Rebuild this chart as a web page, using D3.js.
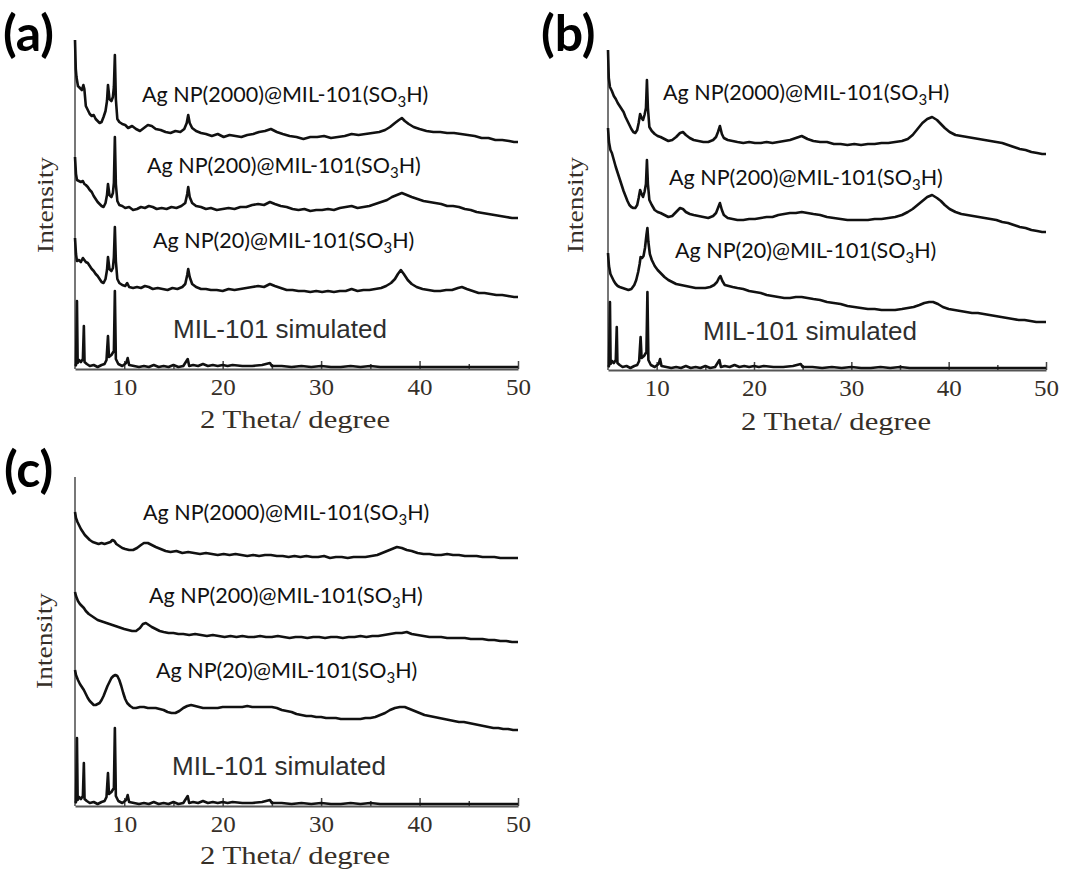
<!DOCTYPE html>
<html><head><meta charset="utf-8">
<script src="https://cdn.jsdelivr.net/npm/d3@7"></script>
<style>
html,body{margin:0;padding:0;background:#fff;}
svg{display:block;}
</style></head>
<body>
<svg id="chart" width="1090" height="873"></svg>
<script>
// ---------- data ----------
const xTicks = [10, 20, 30, 40, 50];
const xMinorTicks = [15, 25, 35, 45];
const panelLetters = ["(a)", "(b)", "(c)"];
const sampleNames = ["Ag NP(2000)@MIL-101(SO", "Ag NP(200)@MIL-101(SO", "Ag NP(20)@MIL-101(SO"];
const simName = "MIL-101 simulated";
const xTitle = "2 Theta/ degree";
const yTitle = "Intensity";

// MIL-101 simulated pattern (2θ, a.u.)
const simulated = [[5.0,3],[5.1,4],[5.2,68],[5.27,6],[5.4,9],[5.6,7],[5.8,10],[5.9,43],[5.97,7],[6.2,5],[6.5,3],[6.9,4],[7.3,2],[7.7,4],[8.0,5],[8.2,9],[8.35,33],[8.45,12],[8.7,14],[8.95,18],[9.05,78],[9.15,10],[9.4,5],[9.8,3],[10.2,6],[10.35,11],[10.5,4],[11,3],[11.5,2],[12,3],[12.5,2],[13,4],[13.5,2],[14,3],[14.5,2],[15,4],[15.5,2],[16,3],[16.45,10],[16.6,3],[17,4],[17.5,3],[18,5],[18.5,3],[19,4],[19.5,3],[20,4],[20.5,3],[21,4],[22,3],[23,3],[24,4],[24.8,6],[25,3],[26,3],[27,2],[28,3],[29,2],[30,3],[31,2],[32,2],[33,3],[34,2],[35,3],[36,2],[37,2],[38,2],[39,2],[40,2],[41,2],[42,2],[43,2],[44,2],[45,2],[46,2],[47,2],[48,2],[49,2],[50,2]];

// panel (a)
const a2000 = [[5.0,329],[5.08,300],[5.15,292],[5.3,283],[5.5,281],[5.7,279],[5.85,284],[5.95,280],[6.1,263],[6.3,259],[6.5,255],[6.7,253],[6.9,254],[7.1,250],[7.3,248],[7.5,246],[7.7,247],[7.9,252],[8.1,258],[8.25,268],[8.35,284],[8.5,270],[8.7,268],[8.85,272],[8.95,282],[9.05,314],[9.15,270],[9.3,250],[9.5,247],[9.8,245],[10.1,244],[10.4,241],[10.8,243],[11.2,240],[11.6,238],[12.0,241],[12.4,244],[12.8,243],[13.2,240],[13.7,239],[14.2,237],[14.7,236],[15.2,238],[15.7,237],[16.1,240],[16.35,246],[16.5,254],[16.65,246],[16.9,241],[17.3,238],[17.8,236],[18.3,235],[18.9,233],[19.5,235],[20.1,232],[20.7,234],[21.3,233],[21.9,232],[22.5,234],[23.1,235],[23.7,237],[24.3,238],[24.9,240],[25.5,237],[26.1,235],[26.8,233],[27.5,232],[28.2,230],[28.9,232],[29.6,232],[30.3,233],[31.0,231],[31.7,232],[32.4,233],[33.1,235],[33.8,234],[34.5,235],[35.2,236],[35.9,237],[36.5,239],[37.0,242],[37.5,246],[37.9,249],[38.2,251],[38.5,248],[38.9,245],[39.4,242],[40.0,240],[40.7,238],[41.4,237],[42.1,237],[42.8,236],[43.5,236],[44.2,235],[44.9,234],[45.6,233],[46.3,231],[47.0,231],[47.7,229],[48.4,229],[49.1,228],[49.6,227],[50.0,227]];
const a200 = [[5.0,212],[5.1,195],[5.2,189],[5.4,188],[5.6,187],[5.8,188],[5.95,185],[6.1,184],[6.3,182],[6.5,179],[6.7,177],[6.9,173],[7.1,170],[7.3,167],[7.5,165],[7.7,163],[7.9,162],[8.1,166],[8.25,174],[8.35,185],[8.5,174],[8.7,172],[8.85,176],[8.95,186],[9.05,232],[9.15,185],[9.3,168],[9.5,164],[9.8,163],[10.1,161],[10.5,162],[10.9,159],[11.3,160],[11.7,162],[12.1,161],[12.5,163],[12.9,162],[13.3,160],[13.8,161],[14.3,160],[14.8,162],[15.3,161],[15.8,163],[16.2,166],[16.4,175],[16.5,182],[16.65,172],[16.9,166],[17.3,163],[17.8,162],[18.3,160],[18.8,161],[19.4,159],[20.0,160],[20.6,161],[21.2,160],[21.8,162],[22.4,162],[23.0,164],[23.6,165],[24.2,164],[24.8,167],[25.3,165],[25.9,163],[26.5,162],[27.1,160],[27.7,159],[28.3,160],[28.9,158],[29.5,159],[30.1,159],[30.7,160],[31.3,159],[31.9,161],[32.5,162],[33.1,163],[33.7,161],[34.3,162],[34.9,163],[35.5,165],[36.1,167],[36.7,169],[37.2,172],[37.7,174],[38.2,176],[38.7,174],[39.2,172],[39.8,170],[40.4,168],[41.0,167],[41.6,166],[42.2,165],[42.8,163],[43.4,163],[44.0,162],[44.6,160],[45.2,159],[45.8,157],[46.4,156],[47.0,155],[47.6,154],[48.2,153],[48.8,152],[49.4,151],[50.0,151]];
const a20 = [[5.0,131],[5.1,115],[5.2,108],[5.4,109],[5.6,107],[5.8,111],[5.95,109],[6.1,107],[6.3,106],[6.5,103],[6.7,100],[6.9,98],[7.1,95],[7.3,93],[7.5,90],[7.7,87],[7.9,86],[8.1,90],[8.25,99],[8.35,112],[8.5,100],[8.7,98],[8.85,101],[8.95,112],[9.05,142],[9.15,108],[9.3,90],[9.5,86],[9.8,84],[10.1,83],[10.3,86],[10.5,82],[10.9,81],[11.3,82],[11.7,81],[12.1,83],[12.5,82],[12.9,80],[13.4,81],[13.9,80],[14.4,79],[14.9,81],[15.4,80],[15.9,82],[16.2,85],[16.4,94],[16.5,100],[16.65,92],[16.9,85],[17.3,82],[17.8,80],[18.3,80],[18.8,79],[19.4,79],[20.0,78],[20.6,80],[21.2,79],[21.8,80],[22.4,81],[23.0,82],[23.6,83],[24.2,82],[24.8,85],[25.3,83],[25.9,81],[26.5,79],[27.1,79],[27.7,78],[28.3,78],[28.9,77],[29.5,78],[30.1,77],[30.7,78],[31.3,77],[31.9,78],[32.5,78],[33.1,80],[33.7,78],[34.3,79],[34.9,79],[35.5,80],[36.1,81],[36.6,83],[37.1,86],[37.5,90],[37.8,95],[38.1,99],[38.4,95],[38.8,89],[39.2,85],[39.7,82],[40.3,80],[40.9,79],[41.5,78],[42.1,78],[42.7,79],[43.3,79],[43.9,81],[44.3,82],[44.8,80],[45.4,78],[46.0,76],[46.6,76],[47.2,75],[47.8,74],[48.4,74],[49.0,73],[49.6,72],[50.0,72]];

// panel (b)
const b2000 = [[5.0,320],[5.08,292],[5.2,283],[5.4,279],[5.6,274],[5.8,271],[6.0,267],[6.2,264],[6.4,261],[6.6,258],[6.8,253],[7.0,249],[7.2,245],[7.4,241],[7.6,238],[7.8,237],[8.0,240],[8.15,247],[8.3,256],[8.45,252],[8.6,250],[8.75,255],[8.9,262],[9.0,290],[9.1,262],[9.25,243],[9.5,239],[9.8,236],[10.1,234],[10.4,233],[10.8,231],[11.2,229],[11.6,230],[12.0,233],[12.4,237],[12.7,238],[13.0,235],[13.4,232],[13.8,230],[14.3,229],[14.8,228],[15.3,228],[15.8,230],[16.1,233],[16.3,238],[16.5,244],[16.7,236],[16.9,232],[17.3,230],[17.8,229],[18.3,228],[18.9,227],[19.5,228],[20.1,227],[20.7,227],[21.3,228],[21.9,227],[22.5,228],[23.1,229],[23.7,230],[24.3,232],[24.9,234],[25.5,231],[26.1,229],[26.8,228],[27.5,228],[28.2,226],[28.9,226],[29.6,225],[30.3,226],[31.0,225],[31.7,226],[32.4,226],[33.1,227],[33.8,227],[34.5,228],[35.2,229],[35.8,231],[36.3,235],[36.8,241],[37.3,247],[37.8,251],[38.3,253],[38.8,250],[39.2,246],[39.6,242],[40.1,238],[40.7,235],[41.3,234],[41.9,233],[42.5,232],[43.1,231],[43.7,230],[44.3,229],[44.9,228],[45.5,227],[46.1,225],[46.7,223],[47.3,221],[47.9,220],[48.5,218],[49.1,217],[49.6,216],[50.0,216]];
const b200 = [[5.0,242],[5.1,228],[5.25,220],[5.4,217],[5.6,210],[5.8,203],[6.0,197],[6.2,191],[6.4,185],[6.6,179],[6.8,174],[7.0,169],[7.2,165],[7.4,163],[7.6,162],[7.8,162],[8.0,165],[8.15,172],[8.3,180],[8.45,176],[8.6,173],[8.75,178],[8.9,186],[9.0,210],[9.1,186],[9.25,170],[9.5,165],[9.8,160],[10.1,158],[10.4,157],[10.8,155],[11.2,153],[11.6,154],[12.0,158],[12.4,162],[12.7,161],[13.0,158],[13.4,156],[13.8,155],[14.3,154],[14.8,153],[15.3,152],[15.8,154],[16.1,157],[16.3,162],[16.5,167],[16.7,160],[16.9,155],[17.3,152],[17.8,151],[18.3,150],[18.9,150],[19.5,151],[20.1,151],[20.7,152],[21.3,153],[21.9,153],[22.5,155],[23.1,156],[23.7,157],[24.3,157],[24.9,158],[25.5,157],[26.1,156],[26.8,155],[27.5,153],[28.2,152],[28.9,151],[29.6,150],[30.3,150],[31.0,150],[31.7,150],[32.4,151],[33.1,151],[33.8,152],[34.5,153],[35.2,155],[35.8,158],[36.3,161],[36.8,165],[37.3,169],[37.8,173],[38.3,175],[38.8,172],[39.2,169],[39.6,165],[40.1,161],[40.7,158],[41.3,156],[41.9,155],[42.5,154],[43.1,153],[43.7,152],[44.3,151],[44.9,150],[45.5,148],[46.1,147],[46.7,145],[47.3,143],[47.9,142],[48.5,140],[49.1,139],[49.6,138],[50.0,138]];
const b20 = [[5.0,117],[5.1,104],[5.25,96],[5.4,93],[5.6,89],[5.8,86],[6.0,84],[6.2,83],[6.5,82],[6.8,81],[7.1,80],[7.4,81],[7.7,85],[7.9,90],[8.1,98],[8.25,106],[8.35,113],[8.5,112],[8.65,114],[8.8,122],[8.95,135],[9.05,142],[9.15,128],[9.3,116],[9.5,110],[9.8,104],[10.1,100],[10.4,97],[10.8,93],[11.2,90],[11.6,88],[12.0,86],[12.5,85],[13.0,84],[13.5,83],[14.0,82],[14.5,82],[15.0,82],[15.5,83],[15.9,85],[16.2,88],[16.4,92],[16.55,94],[16.75,89],[17.0,85],[17.4,84],[17.8,83],[18.3,82],[18.9,81],[19.5,79],[20.1,78],[20.7,77],[21.3,75],[21.9,74],[22.5,73],[23.1,72],[23.7,72],[24.3,73],[24.9,73],[25.5,72],[26.1,71],[26.8,70],[27.5,68],[28.2,67],[28.9,66],[29.6,64],[30.3,63],[31.0,62],[31.7,61],[32.4,61],[33.1,60],[33.8,60],[34.5,60],[35.2,61],[35.8,62],[36.4,63],[37.0,65],[37.5,67],[38.0,68],[38.4,68],[38.9,66],[39.4,63],[40.0,61],[40.6,60],[41.2,59],[41.8,58],[42.4,57],[43.0,57],[43.6,56],[44.2,55],[44.8,54],[45.4,53],[46.0,52],[46.6,51],[47.2,50],[47.8,50],[48.4,49],[49.0,48],[49.6,48],[50.0,48]];

// panel (c)
const c2000 = [[5.0,294],[5.1,288],[5.25,284],[5.4,281],[5.6,277],[5.8,274],[6.0,271],[6.2,269],[6.5,266],[6.8,264],[7.1,263],[7.4,262],[7.7,263],[8.0,262],[8.3,263],[8.6,264],[8.8,266],[9.0,265],[9.2,262],[9.5,260],[9.8,258],[10.1,257],[10.5,256],[10.9,256],[11.3,258],[11.7,261],[12.0,263],[12.4,263],[12.8,261],[13.2,259],[13.7,257],[14.2,255],[14.7,254],[15.3,255],[15.9,253],[16.5,254],[17.1,253],[17.7,252],[18.3,253],[18.9,252],[19.5,251],[20.1,252],[20.7,251],[21.3,252],[21.9,251],[22.5,250],[23.1,251],[23.7,250],[24.3,251],[24.9,251],[25.5,250],[26.1,250],[26.7,249],[27.3,250],[27.9,249],[28.5,250],[29.1,249],[29.7,249],[30.3,250],[30.9,248],[31.5,249],[32.1,249],[32.7,248],[33.3,249],[33.9,249],[34.5,249],[35.1,250],[35.7,251],[36.2,253],[36.7,255],[37.2,257],[37.7,259],[38.2,258],[38.7,256],[39.2,255],[39.8,253],[40.4,252],[41.0,252],[41.6,251],[42.2,251],[42.8,252],[43.4,251],[44.0,251],[44.6,250],[45.2,250],[45.8,250],[46.4,249],[47.0,249],[47.6,249],[48.2,248],[48.8,248],[49.4,248],[50.0,248]];
const c200 = [[5.0,214],[5.1,210],[5.3,205],[5.5,202],[5.7,200],[5.9,198],[6.1,195],[6.4,192],[6.7,190],[7.0,188],[7.3,186],[7.6,185],[7.9,184],[8.2,183],[8.5,182],[8.8,181],[9.1,180],[9.4,179],[9.7,178],[10.0,177],[10.4,176],[10.8,175],[11.2,175],[11.6,178],[11.9,182],[12.2,183],[12.5,181],[12.8,179],[13.2,177],[13.6,175],[14.0,174],[14.5,173],[15.0,173],[15.5,172],[16.0,172],[16.6,171],[17.2,172],[17.8,171],[18.4,170],[19.0,171],[19.6,170],[20.2,169],[20.8,170],[21.4,169],[22.0,170],[22.6,169],[23.2,169],[23.8,170],[24.4,169],[25.0,169],[25.6,170],[26.2,169],[26.8,168],[27.4,169],[28.0,169],[28.6,168],[29.2,169],[29.8,169],[30.4,168],[31.0,169],[31.6,169],[32.2,168],[32.8,169],[33.4,169],[34.0,170],[34.6,169],[35.2,170],[35.8,170],[36.4,171],[37.0,172],[37.6,173],[38.2,173],[38.7,174],[39.2,172],[39.8,171],[40.4,170],[41.0,169],[41.6,169],[42.2,169],[42.8,168],[43.4,168],[44.0,168],[44.6,168],[45.2,167],[45.8,167],[46.4,167],[47.0,166],[47.6,166],[48.2,165],[48.8,165],[49.4,164],[50.0,164]];
const c20 = [[5.0,136],[5.1,131],[5.3,126],[5.5,122],[5.7,119],[5.9,116],[6.1,112],[6.3,108],[6.5,105],[6.7,103],[6.9,101],[7.1,101],[7.3,102],[7.5,103],[7.7,106],[7.9,110],[8.1,115],[8.3,120],[8.5,124],[8.7,128],[8.9,130],[9.1,131],[9.3,130],[9.5,126],[9.7,120],[9.9,113],[10.1,107],[10.3,103],[10.6,100],[10.9,98],[11.2,98],[11.6,99],[12.0,99],[12.4,98],[12.8,98],[13.2,98],[13.6,97],[14.0,96],[14.4,94],[14.8,93],[15.2,93],[15.6,95],[16.0,98],[16.4,100],[16.8,101],[17.2,100],[17.6,99],[18.0,98],[18.5,98],[19.0,98],[19.5,98],[20.0,99],[20.5,99],[21.0,99],[21.5,99],[22.0,99],[22.5,100],[23.0,99],[23.5,99],[24.0,99],[24.5,99],[25.0,99],[25.5,98],[26.0,96],[26.5,95],[27.0,94],[27.5,92],[28.0,91],[28.5,90],[29.0,90],[29.5,89],[30.0,89],[30.5,88],[31.0,88],[31.5,88],[32.0,87],[32.5,87],[33.0,87],[33.5,87],[34.0,87],[34.5,88],[35.0,88],[35.5,89],[36.0,91],[36.5,93],[37.0,96],[37.5,98],[38.0,99],[38.5,99],[39.0,97],[39.5,95],[40.0,93],[40.5,91],[41.0,90],[41.5,89],[42.0,88],[42.5,87],[43.0,86],[43.5,85],[44.0,84],[44.5,84],[45.0,83],[45.5,82],[46.0,81],[46.5,80],[47.0,79],[47.5,78],[48.0,78],[48.5,77],[49.0,77],[49.5,76],[50.0,76]];

// ---------- layout ----------
const panels = [
  {letter: panelLetters[0], letterX: 3, letterY: 51, x0: 75, x1: 518, axisY: 369, top: 40,
   series: [a2000, a200, a20, simulated],
   labels: [[142,102],[147,173],[153,248]], simPos: [173,338], yLab: [45,205], xLab: [295,428]},
  {letter: panelLetters[1], letterX: 541, letterY: 51, x0: 608, x1: 1046, axisY: 370, top: 50,
   series: [b2000, b200, b20, simulated],
   labels: [[663,100],[669,185],[675,258]], simPos: [703,340], yLab: [575,205], xLab: [836,430]},
  {letter: panelLetters[2], letterX: 4, letterY: 487, x0: 75, x1: 518, axisY: 806, top: 477,
   series: [c2000, c200, c20, simulated],
   labels: [[143,520],[149,603],[156,678]], simPos: [172,775], yLab: [44,641], xLab: [295,864]}
];

const svg = d3.select("#chart");
const serifColor = "#362f28";
const serif = "'Liberation Serif','Times New Roman',serif";

panels.forEach(p => {
  const g = svg.append("g");
  const x = d3.scaleLinear().domain([5, 50]).range([p.x0, p.x1]);
  const y = d3.scaleLinear().domain([0, 330]).range([p.axisY, p.axisY - 330]);

  // y axis line (no ticks)
  g.append("line").attr("x1", p.x0).attr("x2", p.x0).attr("y1", p.axisY).attr("y2", p.top)
    .attr("stroke", "#777").attr("stroke-width", 2);

  // x axis via d3 axis, ticks pointing inward (up)
  const xAxis = d3.axisBottom(x).tickValues(xTicks).tickSize(-8).tickSizeOuter(0);
  const ax = g.append("g").attr("transform", `translate(0,${p.axisY})`).call(xAxis);
  ax.select(".domain").attr("stroke", "#555").attr("stroke-width", 2);
  ax.selectAll(".tick line").attr("stroke", "#444").attr("stroke-width", 1.5);
  ax.selectAll(".tick text")
    .attr("font-family", serif)
    .attr("font-size", 24).attr("fill", serifColor).attr("dy", "0.71em")
    .attr("y", 9).attr("textLength", 25).attr("lengthAdjust", "spacingAndGlyphs");
  const minor = d3.axisBottom(x).tickValues(xMinorTicks).tickSize(-5).tickFormat("");
  const mx = g.append("g").attr("transform", `translate(0,${p.axisY})`).call(minor);
  mx.select(".domain").remove();
  mx.selectAll(".tick line").attr("stroke", "#444").attr("stroke-width", 1.5);

  // traces
  const line = d3.line().x(d => x(d[0])).y(d => y(d[1]));
  p.series.forEach(s => {
    g.append("path").datum(s).attr("d", line)
      .attr("fill", "none").attr("stroke", "#111").attr("stroke-width", 2.6)
      .attr("stroke-linejoin", "round");
  });

  // sample labels with subscript
  p.labels.forEach((pos, i) => {
    const t = g.append("text").attr("x", pos[0]).attr("y", pos[1])
      .attr("font-family", "Lato, 'Open Sans', sans-serif").attr("font-size", 21.5).attr("fill", "#111");
    t.append("tspan").text(sampleNames[i]);
    t.append("tspan").text("3").attr("font-size", 15).attr("dy", 5);
    t.append("tspan").text("H)").attr("dy", -5);
  });

  g.append("text").attr("x", p.simPos[0]).attr("y", p.simPos[1])
    .attr("font-family", "'Liberation Sans', Arial, sans-serif").attr("font-size", 26)
    .attr("fill", "#2e2e2e").text(simName);

  // axis titles
  g.append("text").attr("x", p.xLab[0]).attr("y", p.xLab[1]).attr("text-anchor", "middle")
    .attr("font-family", serif).attr("font-size", 25)
    .attr("textLength", 190).attr("lengthAdjust", "spacingAndGlyphs")
    .attr("fill", serifColor).text(xTitle);
  g.append("text").attr("transform", `translate(${p.yLab[0]},${p.yLab[1]}) rotate(-90)`)
    .attr("text-anchor", "middle").attr("dy", "0.35em")
    .attr("font-family", serif).attr("font-size", 24)
    .attr("textLength", 96).attr("lengthAdjust", "spacingAndGlyphs")
    .attr("fill", serifColor).text(yTitle);

  // panel letter
  g.append("text").attr("x", p.letterX).attr("y", p.letterY)
    .attr("font-family", "Lato, 'Open Sans', sans-serif").attr("font-weight", "bold")
    .attr("font-size", 50).attr("fill", "#000").text(p.letter);
});
</script>
</body></html>
